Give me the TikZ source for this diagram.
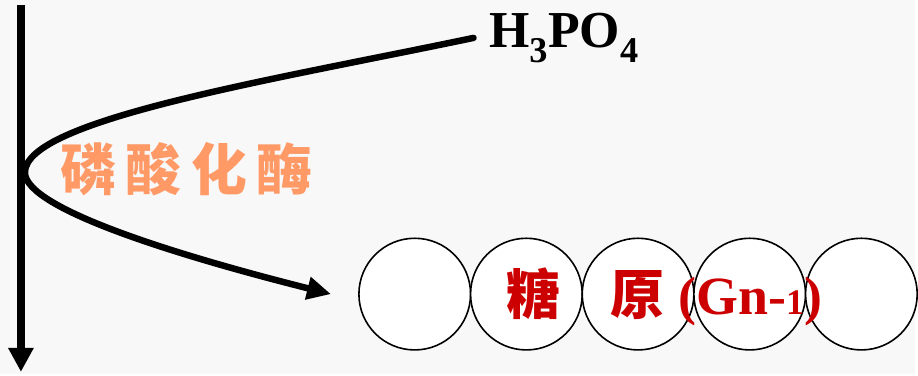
\documentclass[tikz,border=0pt]{standalone}
\usepackage{fontspec}
\setmainfont{Liberation Serif}
\newfontfamily\cjk{Noto Sans CJK SC}
\usetikzlibrary{arrows.meta,positioning}
\definecolor{gyPaper}{HTML}{F8F8F8}
\definecolor{gyEnzyme}{HTML}{FF9966}
\definecolor{gyRed}{HTML}{CC0000}

\begin{document}
\begin{tikzpicture}[x=1pt,y=-1pt,
      glucose/.style={circle,draw=black,fill=white,line width=1.6pt,
                      minimum size=112pt,inner sep=0pt},
      flow/.style={line width=6.5pt,-{Triangle[width=22pt,length=24pt]}}]

    \fill[gyPaper] (0,0) rectangle (918,375);

    % phosphate coming in, main axis going down
    \coordinate (top) at (21,5);
    \coordinate (bottom) at (21,373);
    \coordinate (vertex) at (25,173);
    \coordinate (entry) at (475,38);
    \coordinate (exit) at (332,295);
    \draw[flow,line width=7.5pt,-{Triangle[width=24pt,length=24pt]}] (top) -- (bottom);

    \node[font=\bfseries\fontsize{52}{52}\selectfont,anchor=west] (acid)
      at (487,38) {H\textsubscript{3}PO\textsubscript{4}};

    % the glycogen chain
    \foreach \i/\x in {1/416,2/528,3/640,4/752,5/864}
      \node[glucose] (g\i) at (\x,295) {};

    \draw[line width=6.5pt,line cap=round] (entry) .. controls (275,80) and (25,120) .. (vertex);
    \draw[flow] (vertex) .. controls (25,210) and (185,258) .. (exit);

    \node[text=gyEnzyme,font=\cjk\bfseries\fontsize{56}{56}\selectfont] (enzyme)
      at (187,170) {磷\,酸\,化\,酶};

    \node[text=gyRed,font=\bfseries\fontsize{54}{54}\selectfont,anchor=west] (chain)
      at (505,298) {{\cjk 糖}\hspace{50pt}{\cjk 原}\hspace{14pt}(Gn-{\fontsize{36}{36}\selectfont 1})};
  \end{tikzpicture}
\end{document}
